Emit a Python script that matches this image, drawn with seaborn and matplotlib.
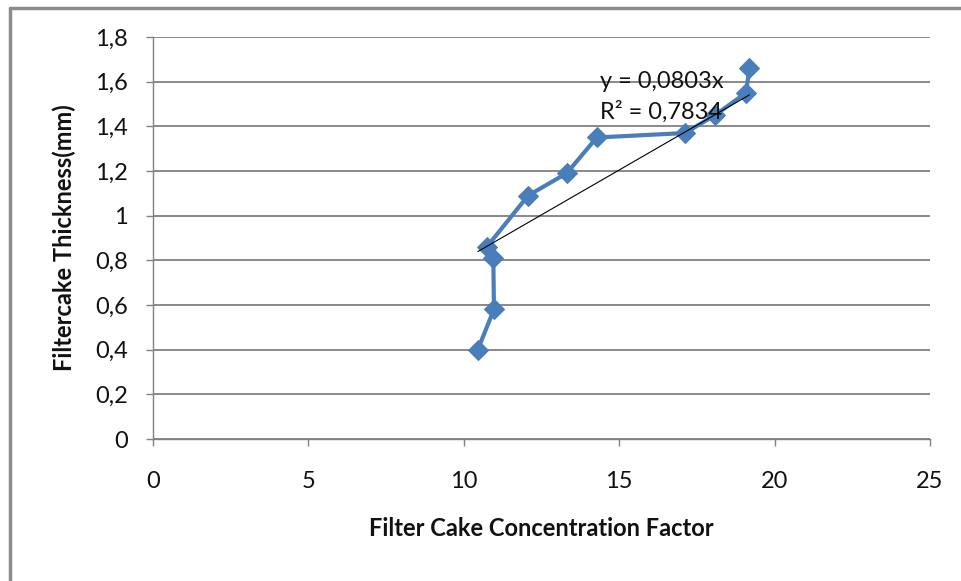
import matplotlib
matplotlib.use("Agg")
from matplotlib import pyplot as plt
from matplotlib.lines import Line2D
import numpy as np
import pandas as pd
import seaborn as sns

# data
concentration = [10.45, 10.97, 10.95, 10.74, 12.07, 13.31, 14.28, 17.12, 18.08, 19.08, 19.19]
thickness = [0.40, 0.58, 0.81, 0.86, 1.09, 1.19, 1.35, 1.37, 1.45, 1.55, 1.66]
slope = 0.0803
r_squared = 0.7834
x_ticks = [0, 5, 10, 15, 20, 25]
y_ticks = [0, 0.2, 0.4, 0.6, 0.8, 1.0, 1.2, 1.4, 1.6, 1.8]

df = pd.DataFrame({"x": concentration, "y": thickness})
x_fit = np.array([min(concentration), max(concentration)])
trend = pd.DataFrame({"x": x_fit, "y": slope * x_fit})

sns.set_theme(style="white")
plt.rcParams["font.family"] = ["Lato", "DejaVu Sans"]

fig = plt.figure(figsize=(9.61, 5.81), dpi=100)
ax = fig.add_axes([153 / 961, 1 - 439 / 581, (930 - 153) / 961, (439 - 37) / 581])

grid_col = "#808080"
blue = "#4a7ebb"
txt = "#111111"

sns.lineplot(data=df, x="x", y="y", ax=ax, sort=False, color=blue, linewidth=3,
             marker="D", markersize=10, markeredgecolor=blue, zorder=3)
sns.lineplot(data=trend, x="x", y="y", ax=ax, color="black", linewidth=0.8, zorder=4)

ax.set_xlim(0, 25)
ax.set_ylim(0, 1.8)
ax.set_xticks(x_ticks)
ax.set_yticks(y_ticks)
ax.set_xticklabels([str(t) for t in x_ticks])
ax.set_yticklabels([("%g" % t).replace(".", ",") for t in y_ticks])
ax.yaxis.grid(True, color=grid_col, linewidth=1.3)
ax.xaxis.grid(False)
ax.set_axisbelow(True)

for s in ["top", "right"]:
    ax.spines[s].set_visible(False)
for s in ["left", "bottom"]:
    ax.spines[s].set_color(grid_col)
    ax.spines[s].set_linewidth(1.0)

ax.tick_params(axis="y", direction="out", length=5, width=1, color=grid_col,
               pad=13, labelsize=17, labelcolor=txt, left=True)
ax.tick_params(axis="x", direction="out", length=5, width=1, color=grid_col,
               pad=18, labelsize=17, labelcolor=txt, bottom=True)

ax.set_xlabel("Filter Cake Concentration Factor", fontsize=17, fontweight="bold",
              labelpad=18, color=txt)
ax.set_ylabel("Filtercake Thickness(mm)", fontsize=17, fontweight="bold", labelpad=14,
              color=txt)

ax.text(14.38, 1.60, "y = 0,0803x", fontsize=17, color=txt, va="center")
ax.text(14.38, 1.465, "R² = 0,7834", fontsize=17, color=txt, va="center")

# outer chart border (top and left visible)
fig.add_artist(Line2D([10 / 961, 1], [1 - 8 / 581, 1 - 8 / 581], color="#8c8c8c", linewidth=2.5))
fig.add_artist(Line2D([10 / 961, 10 / 961], [0, 1 - 8 / 581], color="#8c8c8c", linewidth=2.5))

fig.savefig("out.png", dpi=100)
